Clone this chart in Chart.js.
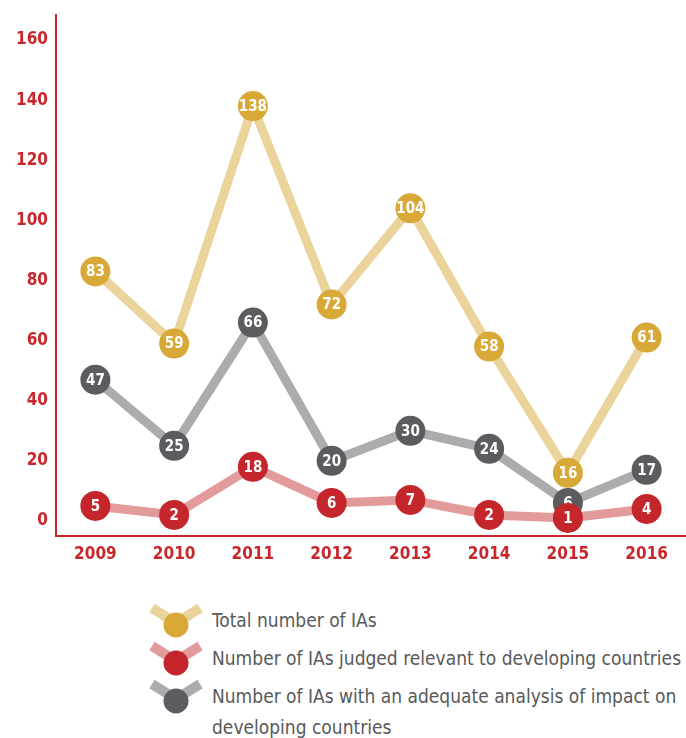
<!DOCTYPE html>
<html>
<head>
<meta charset="utf-8">
<script src="https://cdn.jsdelivr.net/npm/chart.js@4"></script>
<style>
  body { margin: 0; background: #fff; overflow: hidden; }
  #wrap { position: relative; width: 686px; height: 570px; }
  #legend { position: absolute; left: 150px; top: 605px; font-family: "DejaVu Sans Condensed", "Liberation Sans", sans-serif; font-stretch: condensed; font-size: 19px; color: #58595b; }
  .item { display: flex; align-items: flex-start; margin-bottom: 7px; }
  .item svg { flex: none; margin-right: 6px; overflow: visible; }
  .item span { line-height: 31px; white-space: nowrap; }
</style>
</head>
<body>
<div id="wrap"><canvas id="myChart" width="686" height="570"></canvas></div>
<div id="legend"></div>
<script>
const years = ['2009', '2010', '2011', '2012', '2013', '2014', '2015', '2016'];
const totalIAs = [83, 59, 138, 72, 104, 58, 16, 61];
const relevantIAs = [5, 2, 18, 6, 7, 2, 1, 4];
const adequateIAs = [47, 25, 66, 20, 30, 24, 6, 17];
const yTicks = [0, 20, 40, 60, 80, 100, 120, 140, 160];

const red = '#c8262b';
const font = '"DejaVu Sans Condensed", "Liberation Sans", sans-serif';

const series = [
  { label: 'Total number of IAs', data: totalIAs, line: '#ead49b', dot: '#d9a937' },
  { label: 'Number of IAs judged relevant to developing countries', data: relevantIAs, line: '#e39a9b', dot: '#c4262b' },
  { label: 'Number of IAs with an adequate analysis of impact on<br>developing countries', data: adequateIAs, line: '#abacae', dot: '#5b5c60' }
];

// numbers inside the circles, drawn right after each dataset
const dotLabels = {
  id: 'dotLabels',
  afterDatasetDraw(chart, args) {
    const c = chart.ctx;
    const ds = chart.data.datasets[args.index];
    c.save();
    c.fillStyle = '#fff';
    c.font = 'bold 15px ' + font;
    c.textAlign = 'center';
    c.textBaseline = 'middle';
    args.meta.data.forEach((pt, i) => {
      c.fillText(String(ds.data[i]), pt.x, pt.y + 1);
    });
    c.restore();
  }
};

const ctx = document.getElementById('myChart');
new Chart(ctx, {
  type: 'line',
  data: {
    labels: years,
    datasets: series.map(s => ({
      label: s.label,
      data: s.data,
      borderColor: s.line,
      borderWidth: 9,
      pointRadius: 15,
      pointHoverRadius: 15,
      pointBackgroundColor: s.dot,
      pointBorderWidth: 0,
      tension: 0,
      fill: false
    }))
  },
  options: {
    responsive: false,
    animation: false,
    events: [],
    layout: { autoPadding: false, padding: { top: 15, right: 0, left: 0, bottom: 0 } },
    plugins: { legend: { display: false }, tooltip: { enabled: false } },
    scales: {
      x: {
        offset: true,
        grid: { display: false, drawTicks: false },
        border: { display: true, color: red, width: 2 },
        ticks: { color: red, font: { family: font, size: 17, weight: 'bold' }, padding: 8 },
        afterFit(scale) { scale.height = 34; scale.paddingLeft = 0; scale.paddingRight = 0; }
      },
      y: {
        min: -5,
        max: 168.3,
        grid: { display: false, drawTicks: false },
        border: { display: true, color: red, width: 2 },
        ticks: { color: red, font: { family: font, size: 17, weight: 'bold' }, padding: 8 },
        afterBuildTicks(scale) { scale.ticks = yTicks.map(v => ({ value: v })); },
        afterFit(scale) { scale.width = 56; scale.paddingTop = 0; scale.paddingBottom = 0; }
      }
    }
  },
  plugins: [dotLabels]
});

// legend with the V-shaped markers
const legend = document.getElementById('legend');
series.forEach(s => {
  const item = document.createElement('div');
  item.className = 'item';
  item.innerHTML =
    '<svg width="56" height="31" viewBox="0 0 56 31">' +
    '<polyline points="2,3 26,18 50,3" fill="none" stroke="' + s.line + '" stroke-width="10"/>' +
    '<circle cx="26" cy="20" r="12.5" fill="' + s.dot + '"/></svg>' +
    '<span>' + s.label + '</span>';
  legend.appendChild(item);
});
</script>
</body>
</html>
